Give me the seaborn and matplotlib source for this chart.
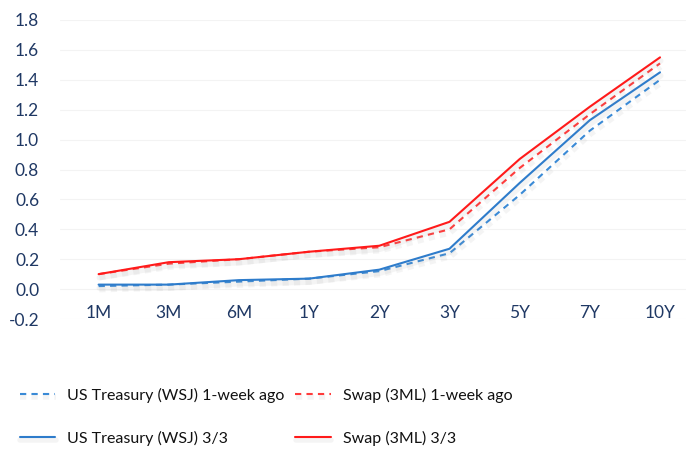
import numpy as np
import pandas as pd
import seaborn as sns
import matplotlib.pyplot as plt
import matplotlib.patheffects as pe

# data
tenors = ["1M", "3M", "6M", "1Y", "2Y", "3Y", "5Y", "7Y", "10Y"]
ust_week_ago = [0.02, 0.03, 0.05, 0.07, 0.12, 0.24, 0.63, 1.06, 1.40]
ust_now = [0.03, 0.03, 0.06, 0.07, 0.13, 0.27, 0.71, 1.13, 1.45]
swap_week_ago = [0.10, 0.17, 0.20, 0.25, 0.28, 0.40, 0.81, 1.17, 1.51]
swap_now = [0.10, 0.18, 0.20, 0.25, 0.29, 0.45, 0.87, 1.22, 1.55]

labels = ["US Treasury (WSJ) 1-week ago", "US Treasury (WSJ) 3/3",
          "Swap (3ML) 1-week ago", "Swap (3ML) 3/3"]
series = [ust_week_ago, ust_now, swap_week_ago, swap_now]
colors = ["#3A8AD6", "#2E7CCB", "#FF3B3B", "#FF1A1A"]
styles = [(0, (3, 2.5)), "-", (0, (3, 2.5)), "-"]

sns.set_style("white")
plt.rcParams["font.family"] = ["Lato", "DejaVu Sans"]

fig = plt.figure(figsize=(6.86, 4.53), dpi=100)
ax = fig.add_axes([60 / 686, 134 / 453, 626 / 686, 299 / 453])

shadow = [pe.SimpleLineShadow(offset=(0.5, -2.5), shadow_color="#9a9a9a", alpha=0.1, linewidth=4),
          pe.Normal()]

for lab, vals, col, ls in zip(labels, series, colors, styles):
    df = pd.DataFrame({"x": np.arange(len(tenors)), "y": vals})
    sns.lineplot(data=df, x="x", y="y", ax=ax, color=col, linestyle=ls,
                 linewidth=1.5, label=lab, path_effects=shadow)

ax.set_xlim(-0.55, 8.37)
ax.set_ylim(-0.2, 1.8)
ax.set_yticks(np.arange(-0.2, 1.81, 0.2))
ax.set_yticklabels([f"{v:.1f}" for v in np.arange(-0.2, 1.81, 0.2)])
ax.set_xticks(range(len(tenors)))
ax.set_xticklabels(tenors)
ax.set_xlabel("")
ax.set_ylabel("")
ax.grid(axis="y", color="#F3F3F3", linewidth=0.8)
ax.grid(axis="x", visible=False)
for s in ax.spines.values():
    s.set_visible(False)
ax.tick_params(axis="x", length=0, pad=-10, labelsize=12.5, labelcolor="#1F3864")
ax.tick_params(axis="y", length=0, pad=15, labelsize=12.5, labelcolor="#1F3864")

handles, labs = ax.get_legend_handles_labels()
ax.get_legend().remove()
fig.legend(handles, labs, ncol=2, loc="lower left", bbox_to_anchor=(0.016, -0.003),
           frameon=False, fontsize=11.5, labelspacing=1.75, columnspacing=0.7,
           handlelength=2.2, handletextpad=0.75, borderpad=0.05, labelcolor="#111111")

fig.savefig("out.png", dpi=100)
